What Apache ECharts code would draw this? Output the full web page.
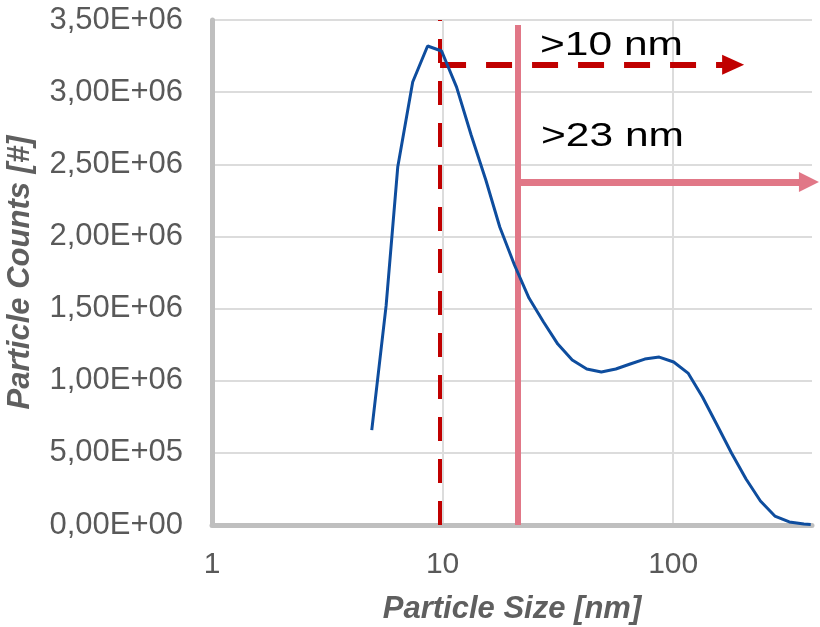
<!DOCTYPE html>
<html>
<head>
<meta charset="utf-8">
<script src="https://cdn.jsdelivr.net/npm/echarts@6/dist/echarts.min.js"></script>
<style>html,body{margin:0;padding:0;background:#fff;}#chart{width:820px;height:627px;}</style>
</head>
<body>
<div id="chart"></div>
<script>
// Particle size bins [nm]
const sizes = [4.93, 5.69, 6.39, 7.42, 8.61, 9.90, 11.5, 13.3, 15.4, 17.7, 20.5, 23.7, 27.4, 31.6, 36.5, 42.2, 48.8, 56.4, 65.1, 75.3, 87.0, 100.5, 116, 134, 155, 179, 207, 239, 276, 319, 369, 395];
// Particle counts [millions]
const countsM = [0.658, 1.520, 2.481, 3.070, 3.320, 3.285, 3.035, 2.703, 2.391, 2.065, 1.802, 1.573, 1.407, 1.254, 1.143, 1.081, 1.060, 1.081, 1.116, 1.150, 1.164, 1.130, 1.053, 0.887, 0.693, 0.499, 0.319, 0.166, 0.062, 0.021, 0.007, 0.004];
// Tick labels on the x axis
const xTicks = [1, 10, 100];
// Annotation values
const cut10 = 9.75, cut23 = 21.1;
const arrow10Y = 3.19e6, arrow10End = 182;
const arrow23Y = 2.377e6, arrow23End = 388, cut23Top = 3.465e6;
const labels = ['>10 nm', '>23 nm'];

const FONT = '"Liberation Sans", Arial, sans-serif';
function fmtE(v) {
  if (v === 0) return '0,00E+00';
  const e = Math.floor(Math.log10(v) + 1e-9);
  const m = v / Math.pow(10, e);
  return m.toFixed(2).replace('.', ',') + 'E' + (e >= 0 ? '+' : '-') + String(Math.abs(e)).padStart(2, '0');
}

const chart = echarts.init(document.getElementById('chart'), null, {renderer: 'canvas'});
const DARKRED = '#C00000', PINK = '#E17787';
chart.setOption({
  animation: false,
  backgroundColor: '#fff',
  grid: {left: 212, right: 8, top: 20, bottom: 102, containLabel: false, outerBoundsMode: 'none'},
  xAxis: {
    type: 'log', logBase: 10, min: 1, max: 400,
    name: 'Particle Size [nm]', nameLocation: 'middle', nameGap: 69,
    nameTextStyle: {fontSize: 31, fontWeight: 'bold', fontStyle: 'italic', color: '#5f5f5f', fontFamily: FONT},
    axisLine: {show: true, lineStyle: {color: '#bfbfbf', width: 5}},
    axisTick: {show: false},
    axisLabel: {fontSize: 30, color: '#595959', fontFamily: FONT, margin: 25, showMaxLabel: false,
      formatter: v => xTicks.indexOf(Math.round(v)) >= 0 ? String(Math.round(v)) : ''},
    splitLine: {show: true, showMinLine: false, showMaxLine: false, lineStyle: {color: '#dcdcdc', width: 2}}
  },
  yAxis: {
    type: 'value', min: 0, max: 3.5e6, interval: 5e5,
    name: 'Particle Counts [#]', nameLocation: 'middle', nameGap: 176,
    nameTextStyle: {fontSize: 31, fontWeight: 'bold', fontStyle: 'italic', color: '#5f5f5f', fontFamily: FONT},
    axisLine: {show: true, lineStyle: {color: '#bfbfbf', width: 5}},
    axisTick: {show: false},
    axisLabel: {fontSize: 31, color: '#595959', fontFamily: FONT, margin: 29, formatter: fmtE},
    splitLine: {show: true, showMinLine: false, lineStyle: {color: '#dcdcdc', width: 2}}
  },
  series: [
    {
      type: 'line', data: [], silent: true,
      markLine: {
        silent: true, z: 2, symbol: ['none', 'none'], label: {show: false},
        data: [
          [{coord: [cut23, 0], lineStyle: {color: PINK, width: 6, type: 'solid'}}, {coord: [cut23, cut23Top]}],
          [{coord: [cut23, arrow23Y], lineStyle: {color: PINK, width: 7, type: 'solid'}}, {coord: [arrow23End, arrow23Y], symbol: 'triangle', symbolSize: [20, 20]}],
          [{coord: [cut10, 0], lineStyle: {color: DARKRED, width: 4, type: [24, 18]}}, {coord: [cut10, 3.5e6]}],
          [{coord: [cut10, arrow10Y], lineStyle: {color: DARKRED, width: 6, type: [26, 20]}}, {coord: [arrow10End, arrow10Y], symbol: 'triangle', symbolSize: [20, 22]}]
        ]
      }
    },
    {
      type: 'line', z: 5, symbol: 'none', showSymbol: false, smooth: false,
      lineStyle: {color: '#0E4D9E', width: 3},
      data: sizes.map((s, i) => [s, countsM[i] * 1e6])
    }
  ],
  graphic: [
    {type: 'text', x: 540, y: 46, scaleX: 1.25, z: 10,
      style: {text: labels[0], font: '34px ' + FONT, fill: '#000', verticalAlign: 'middle', align: 'left'}},
    {type: 'text', x: 541, y: 137, scaleX: 1.25, z: 10,
      style: {text: labels[1], font: '34px ' + FONT, fill: '#000', verticalAlign: 'middle', align: 'left'}}
  ]
});
</script>
</body>
</html>
